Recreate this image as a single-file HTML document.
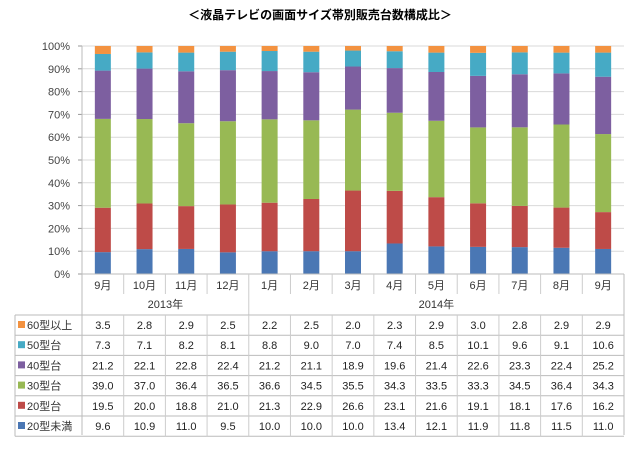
<!DOCTYPE html><html><head><meta charset="utf-8"><style>body{margin:0;background:#fff}svg{display:block}</style></head><body>
<svg id="s" width="640" height="455" xmlns="http://www.w3.org/2000/svg" font-family="Liberation Sans, Noto Sans CJK JP, sans-serif"></svg>
<script>
const d=[
[9.6,10.9,11.0,9.5,10.0,10.0,10.0,13.4,12.1,11.9,11.8,11.5,11.0],
[19.5,20.0,18.8,21.0,21.3,22.9,26.6,23.1,21.6,19.1,18.1,17.6,16.2],
[39.0,37.0,36.4,36.5,36.6,34.5,35.5,34.3,33.5,33.3,34.5,36.4,34.3],
[21.2,22.1,22.8,22.4,21.2,21.1,18.9,19.6,21.4,22.6,23.3,22.4,25.2],
[7.3,7.1,8.2,8.1,8.8,9.0,7.0,7.4,8.5,10.1,9.6,9.1,10.6],
[3.5,2.8,2.9,2.5,2.2,2.5,2.0,2.3,2.9,3.0,2.8,2.9,2.9]];
const col=['#4A77B4','#BE4B48','#98B954','#7D5FA0','#46AAC5','#F39240'];
const names=['20型未満','20型台','30型台','40型台','50型台','60型以上'];
const mon=['9月','10月','11月','12月','1月','2月','3月','4月','5月','6月','7月','8月','9月'];
const L=82,R=624,T=46,B=274,W=(R-L)/13;let s='';
s+=`<text x="320" y="19" text-anchor="middle" font-size="12" font-weight="bold" fill="#000">＜液晶テレビの画面サイズ帯別販売台数構成比＞</text>`;
for(let k=0;k<=10;k++){const y=B-(B-T)*k/10;if(k>0)s+=`<line x1="${L}" x2="${R}" y1="${y}" y2="${y}" stroke="#d9d9d9"/>`;s+=`<line x1="${L-4}" x2="${L}" y1="${y}" y2="${y}" stroke="#999"/><text x="70" y="${y+4}" text-anchor="end" font-size="11" fill="#444">${k*10}%</text>`}
for(let i=0;i<13;i++){let sum=0;for(let j=0;j<6;j++)sum+=d[j][i];let acc=0;const cx=L+W*(i+.5);
for(let j=0;j<6;j++){const h=d[j][i]/sum*(B-T);s+=`<rect x="${cx-8}" y="${B-acc-h}" width="16" height="${h}" fill="${col[j]}"/>`;acc+=h}}
s+=`<line x1="${L}" x2="${L}" y1="${T}" y2="435" stroke="#bbb"/>`;
s+=`<line x1="${L}" x2="${R}" y1="${B}" y2="${B}" stroke="#bbb"/>`;
for(let i=0;i<13;i++){const cx=L+W*(i+.5);s+=`<text x="${cx}" y="289" text-anchor="middle" font-size="11" fill="#333">${mon[i]}</text>`;if(i>0)s+=`<line x1="${L+W*i}" x2="${L+W*i}" y1="${B}" y2="${i==4?315:294}" stroke="#ccc"/>`}
s+=`<line x1="${R}" x2="${R}" y1="${B}" y2="435" stroke="#bbb"/>`;
s+=`<text x="${L+W*2}" y="308" text-anchor="middle" font-size="11" fill="#333">2013年</text><text x="${L+W*8.5}" y="308" text-anchor="middle" font-size="11" fill="#333">2014年</text>`;
const rt=315,rh=20.2;
for(let r=0;r<=6;r++){const y=rt+rh*r;s+=`<line x1="15" x2="${R}" y1="${y}" y2="${y}" stroke="#bbb"/>`}
s+=`<line x1="15" x2="15" y1="${rt}" y2="${rt+rh*6}" stroke="#bbb"/>`;
for(let i=1;i<13;i++)s+=`<line x1="${L+W*i}" x2="${L+W*i}" y1="${rt}" y2="${rt+rh*6}" stroke="#ccc"/>`;
for(let r=0;r<6;r++){const j=5-r,y=rt+rh*r+14;s+=`<rect x="18" y="${y-8}" width="7" height="7" fill="${col[j]}"/><text x="27" y="${y}" font-size="11" fill="#333">${names[j]}</text>`;
for(let i=0;i<13;i++)s+=`<text x="${L+W*(i+.5)}" y="${y}" text-anchor="middle" font-size="11" fill="#222">${d[j][i].toFixed(1)}</text>`}
document.getElementById('s').innerHTML=s;
</script></body></html>
